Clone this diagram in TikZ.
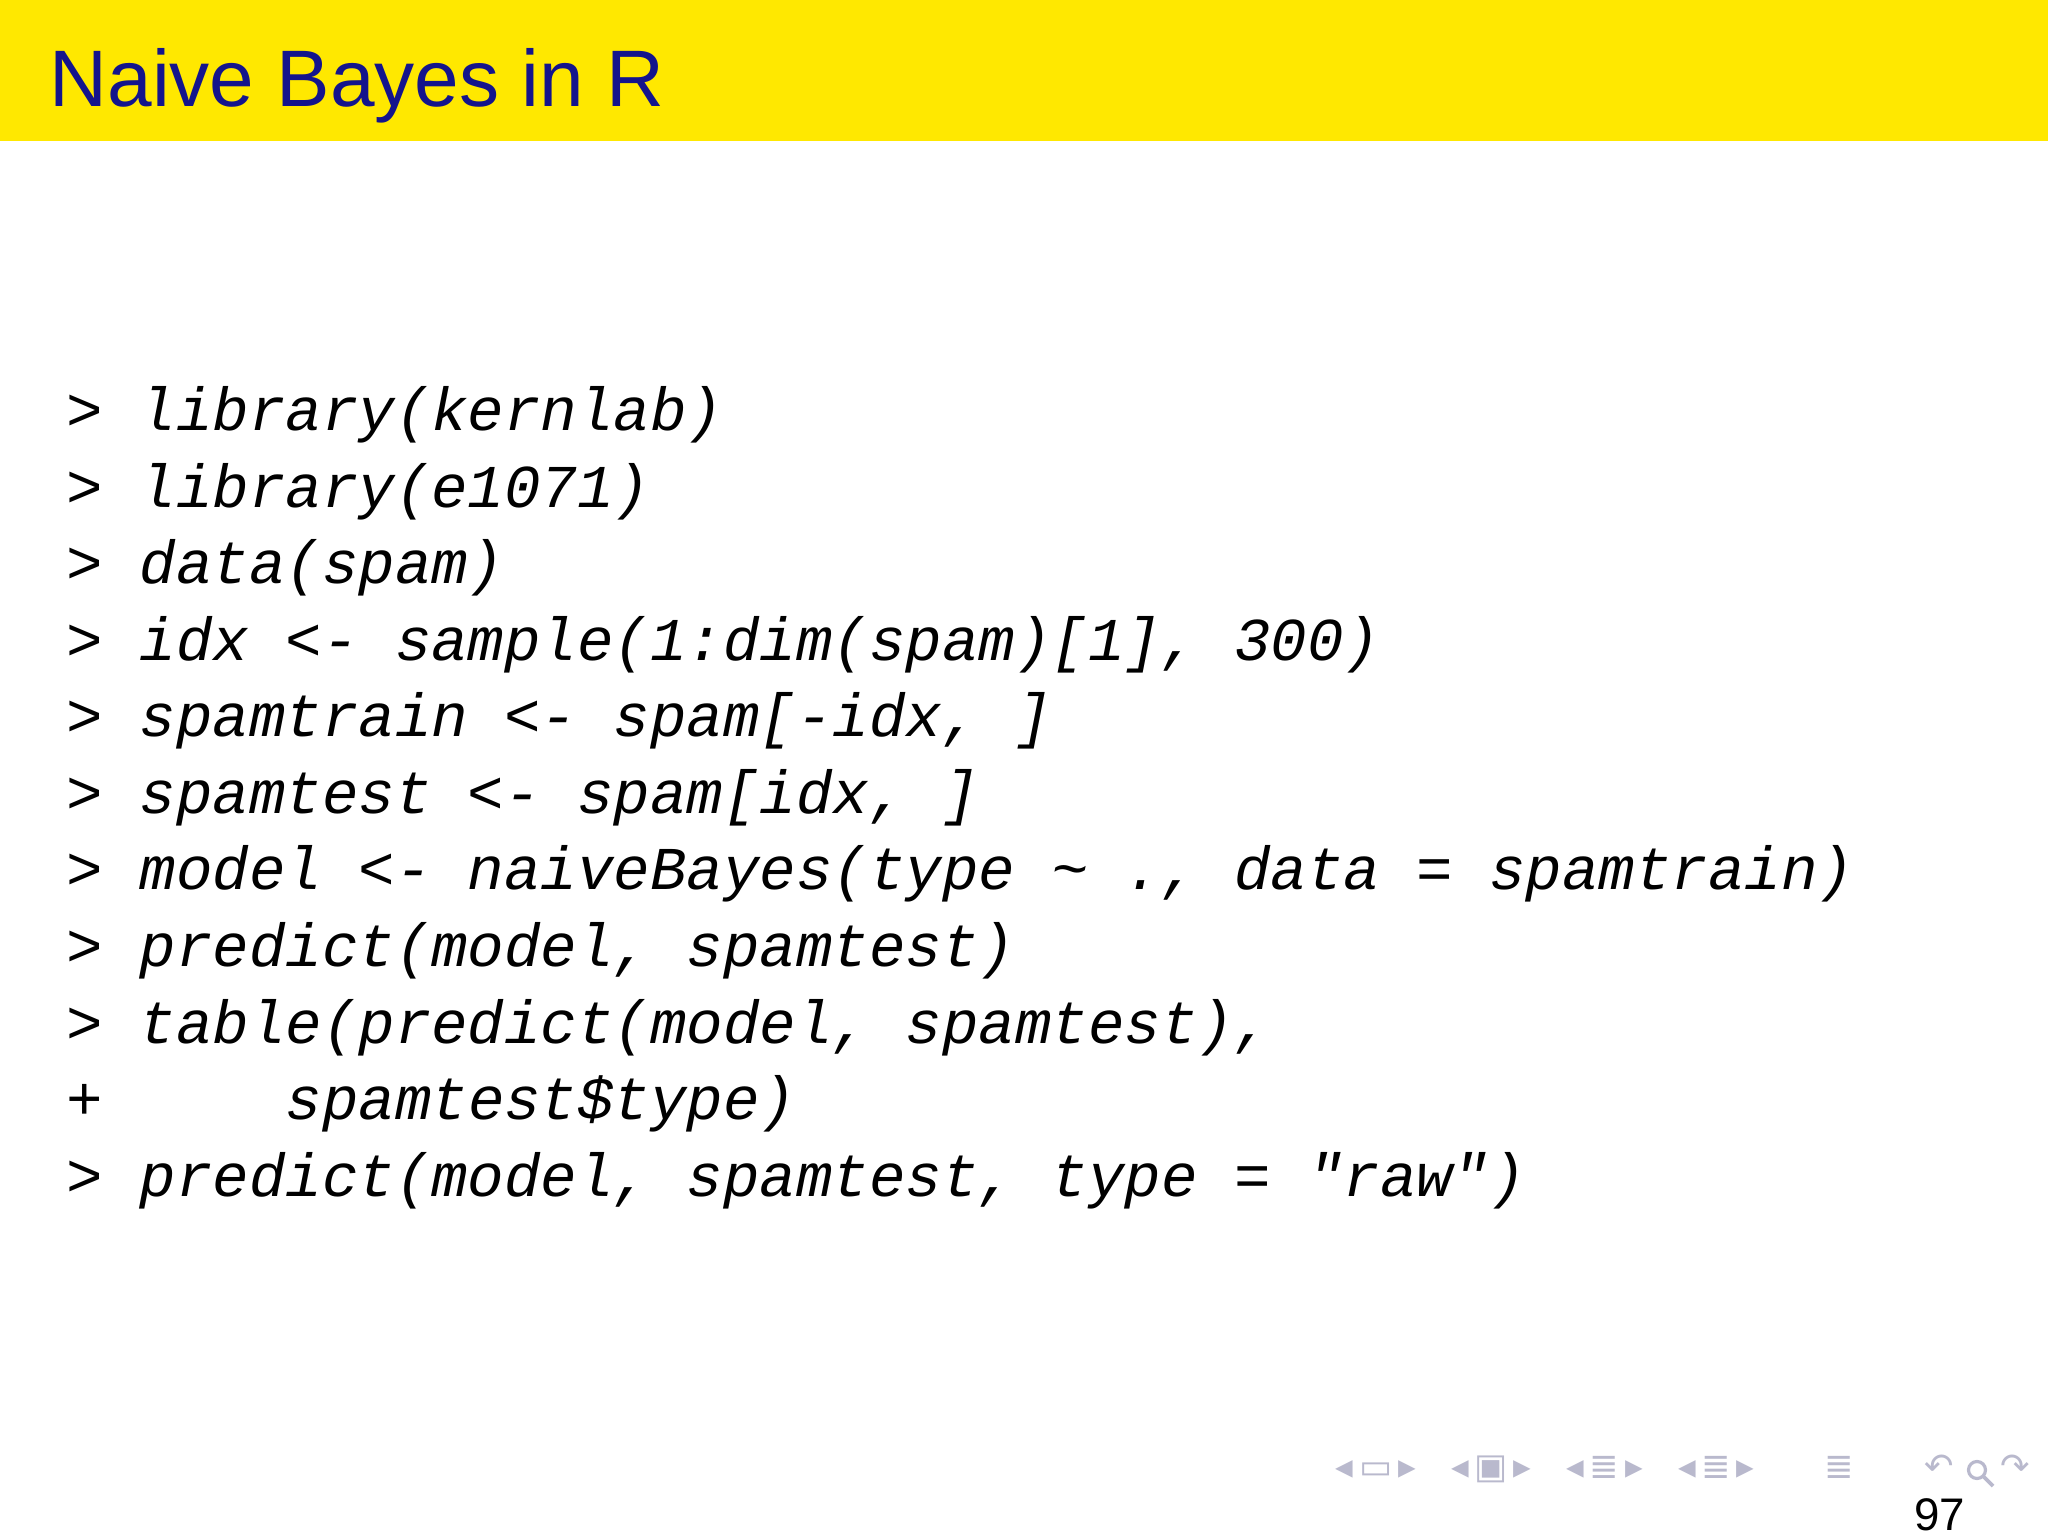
\documentclass[tikz,border=0pt]{standalone}
\usepackage{fontspec}
\setmainfont{Liberation Sans}
\newfontfamily\codefont{Liberation Mono}
\newfontfamily\navfont{DejaVu Sans}
\definecolor{hdr}{RGB}{255,232,0}
\definecolor{ttl}{RGB}{20,20,140}
\definecolor{nav}{RGB}{185,185,205}
\begin{document}
\begin{tikzpicture}[x=1cm,y=1cm,
  code/.style={anchor=base west,inner sep=0pt,font=\codefont\itshape\fontsize{17.3}{20}\selectfont},
  navtxt/.style={anchor=base west,inner sep=0pt,text=nav,font=\navfont\fontsize{10}{11}\selectfont}]
\useasboundingbox (0,0) rectangle (20.48,-15.36);
\fill[white] (0,0) rectangle (20.48,-15.36);
\fill[hdr] (0,0) rectangle (20.48,-1.41);
\node[anchor=base west,inner sep=0pt,text=ttl,font=\fontsize{22.8}{28}\selectfont] (title) at (0.49,-1.07) {Naive Bayes in R};
\foreach \t [count=\i] in {%
  {> library(kernlab)},
  {> library(e1071)},
  {> data(spam)},
  {> idx <- sample(1:dim(spam)[1], 300)},
  {> spamtrain <- spam[-idx, ]},
  {> spamtest <- spam[idx, ]},
  {> model <- naiveBayes(type \string~ ., data = spamtrain)},
  {> predict(model, spamtest)},
  {> table(predict(model, spamtest),},
  {+\ \ \ \ \ spamtest\$type)},
  {> predict(model, spamtest, type = "raw")}}
  \node[code] (l\i) at (0.66,{-4.31-0.765*(\i-1)}) {\t};
\node[navtxt] (navbar) at (13.35,-14.78)
  {◂\,▭\,▸\quad ◂\,▣\,▸\quad ◂\,≣\,▸\quad ◂\,≣\,▸\qquad ≣\qquad ↶};
\coordinate (mag) at (19.77,-14.7);
\draw[nav,line width=0.9pt] (mag) circle (0.085);
\draw[nav,line width=1.1pt] (mag) ++(0.06,-0.06) -- ++(0.1,-0.1);
\node[navtxt] (redo) at (20.0,-14.78) {↷};
\node[anchor=base east,inner sep=0pt,font=\fontsize{13}{15}\selectfont] (page) at (19.66,-15.3) {97};
\end{tikzpicture}
\end{document}
